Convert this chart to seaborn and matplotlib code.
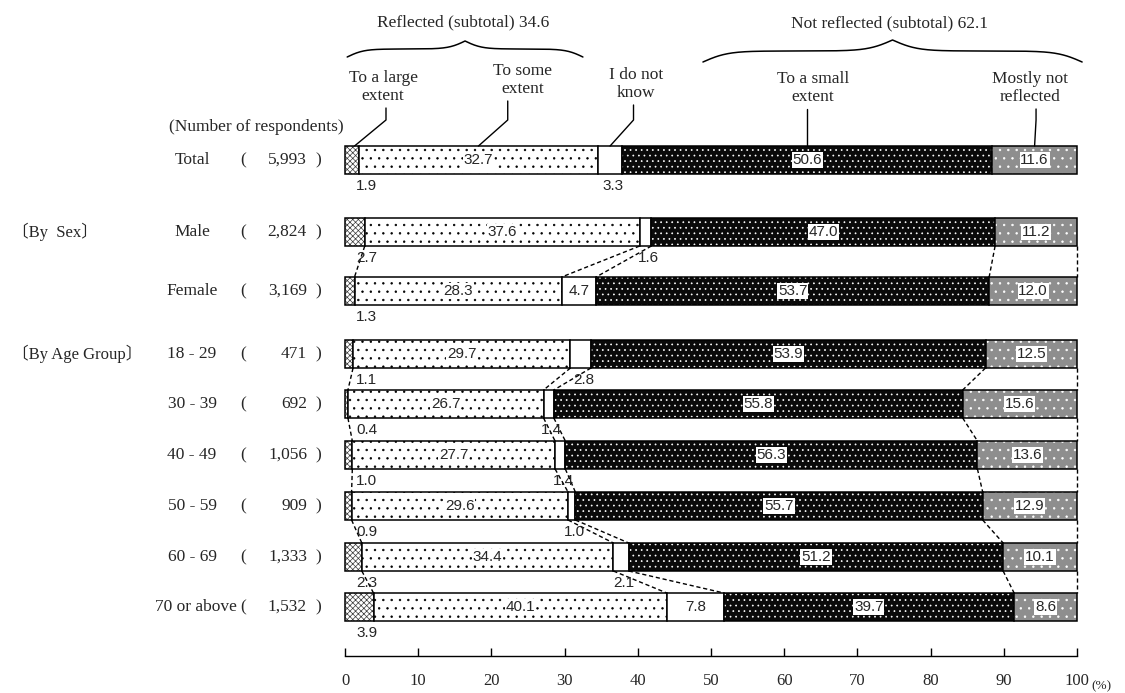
import numpy as np
import pandas as pd
import matplotlib
matplotlib.use('Agg')
import matplotlib.pyplot as plt
import seaborn as sns

# ---- data (percent) ----
groups = ['Total', 'Male', 'Female', '18 - 29', '30 - 39', '40 - 49', '50 - 59', '60 - 69', '70 or above']
respondents = ['5,993', '2,824', '3,169', '471', '692', '1,056', '909', '1,333', '1,532']
answers = ['To a large\nextent', 'To some\nextent', 'I do not\nknow', 'To a small\nextent', 'Mostly not\nreflected']
large_extent = [1.9, 2.7, 1.3, 1.1, 0.4, 1.0, 0.9, 2.3, 3.9]
some_extent = [32.7, 37.6, 28.3, 29.7, 26.7, 27.7, 29.6, 34.4, 40.1]
dont_know = [3.3, 1.6, 4.7, 2.8, 1.4, 1.4, 1.0, 2.1, 7.8]
small_extent = [50.6, 47.0, 53.7, 53.9, 55.8, 56.3, 55.7, 51.2, 39.7]
mostly_not = [11.6, 11.2, 12.0, 12.5, 15.6, 13.6, 12.9, 10.1, 8.6]
reflected_subtotal = 34.6
not_reflected_subtotal = 62.1
x_ticks = list(range(0, 101, 10))

# ---- layout (y axis runs in pixels, top = 0) ----
row_y = [160, 232, 291, 354, 404, 455, 506, 557, 607]
bar_h = 28
links = [(1, 2), (3, 4), (4, 5), (5, 6), (6, 7), (7, 8)]
PX = 7.32  # pixels per percent

sns.set_style('white')
plt.rcParams['font.family'] = ['Liberation Serif', 'Noto Sans CJK JP']
plt.rcParams['hatch.linewidth'] = 0.5
NUMFONT = ['Liberation Sans Narrow', 'Liberation Sans']

fig = plt.figure(figsize=(11.25, 6.93), dpi=100)
ax = fig.add_axes([345 / 1125, 37 / 693, 732 / 1125, 656 / 693])

segs = [large_extent, some_extent, dont_know, small_extent, mostly_not]
vals = np.array(segs).T
# 100% stacked: every bar is scaled to end exactly at 100
share = vals / vals.sum(axis=1, keepdims=True) * 100
ends = np.cumsum(share, axis=1)
starts = ends - share

styles = [
    dict(color='white', edgecolor='#3a3a3a', hatch='xxxxxx'),
    dict(color='white', edgecolor='black', hatch='..'),
    dict(color='white', edgecolor='white', hatch=None),
    dict(color='#0a0a0a', edgecolor='white', hatch='...'),
    dict(color='#8e8e8e', edgecolor='white', hatch='..'),
]

width = bar_h / np.min(np.diff(row_y))
for k in range(len(segs)):
    df = pd.DataFrame({'pos': row_y, 'pct': share[:, k]})
    sns.barplot(data=df, x='pct', y='pos', orient='h', native_scale=True, width=width,
                saturation=1, errorbar=None, linewidth=0, left=starts[:, k], ax=ax, **styles[k])
    sns.barplot(data=df, x='pct', y='pos', orient='h', native_scale=True, width=width,
                fill=False, color='black', linewidth=1.1, errorbar=None, left=starts[:, k], ax=ax)
for p in ax.patches:
    p.set_clip_on(False)

# dashed connectors between neighbouring bars
for a, b in links:
    for k in range(5):
        ax.plot([ends[a, k], ends[b, k]], [row_y[a] + bar_h / 2, row_y[b] - bar_h / 2],
                color='black', lw=1, ls=(0, (3, 2)), zorder=1, clip_on=False)

# value labels
box = dict(facecolor='white', edgecolor='none', pad=0.6)
for i, y in enumerate(row_y):
    below = y + bar_h / 2 + 12
    ax.text(1.5, below, '%.1f' % vals[i, 0], ha='left', va='center', fontsize=11, family=NUMFONT)
    for k in (1, 3, 4):
        ax.text(starts[i, k] + share[i, k] / 2, y, '%.1f' % vals[i, k], ha='center', va='center',
                fontsize=11, family=NUMFONT, bbox=box, zorder=5)
    cx = starts[i, 2] + share[i, 2] / 2
    if vals[i, 2] >= 4:
        ax.text(cx, y, '%.1f' % vals[i, 2], ha='center', va='center', fontsize=11, family=NUMFONT, zorder=5)
    else:
        ax.text(cx + 0.4, below, '%.1f' % vals[i, 2], ha='center', va='center', fontsize=11, family=NUMFONT)


# row labels on the left
def xp(px):
    return (px - 345) / PX


for i, y in enumerate(row_y):
    if len(groups[i]) > 8:
        ax.text(xp(237), y, groups[i], ha='right', va='center', fontsize=12.5, clip_on=False)
    else:
        ax.text(xp(192), y, groups[i], ha='center', va='center', fontsize=12.5, clip_on=False)
    ax.text(xp(243), y, '(', ha='center', va='center', fontsize=12.5, clip_on=False)
    ax.text(xp(307), y, respondents[i], ha='right', va='center', fontsize=12.5, clip_on=False)
    ax.text(xp(318), y, ')', ha='center', va='center', fontsize=12.5, clip_on=False)
ax.text(xp(12), row_y[1], '〔By  Sex〕', ha='left', va='center', fontsize=12, clip_on=False)
ax.text(xp(12), row_y[3], '〔By Age Group〕', ha='left', va='center', fontsize=12, clip_on=False)
ax.text(xp(344), 127, '(Number of respondents)', ha='right', va='center', fontsize=12.5, clip_on=False)

# answer headers with leader lines to the Total bar
head_x = [5.2, 24.3, 39.8, 63.9, 93.6]
head_bottom = [104, 97, 101, 105, 105]
lead_dx = [4.3, 4.0, 3.2, 0.0, 0.2]
top = row_y[0] - bar_h / 2
for k in range(5):
    ax.text(head_x[k], head_bottom[k], answers[k], ha='center', va='bottom', fontsize=12.5,
            linespacing=1.2, clip_on=False)
    cx = starts[0, k] + share[0, k] / 2
    if k == 0:
        cx = 1.3
    ux = cx + lead_dx[k]
    if lead_dx[k] > 0:
        ax.plot([ux, ux, cx], [head_bottom[k] + 4, top - 26, top], color='black', lw=1, clip_on=False)
    else:
        ax.plot([ux, ux], [head_bottom[k] + 4, top], color='black', lw=1, clip_on=False)


def brace(x0, x1, y_end, rise, beta=0.12):
    L = (x1 - x0) * PX / 2
    t = np.linspace(0, L, 200)
    v = 1 / (1 + np.exp(-beta * t)) + 1 / (1 + np.exp(-beta * (t - L)))
    yy = y_end - (v - 0.5) * rise
    xs = np.concatenate([x0 + t / PX, x1 - t[::-1] / PX])
    ys = np.concatenate([yy, yy[::-1]])
    ax.plot(xs, ys, color='black', lw=1.1, clip_on=False)


brace(0.3, 32.5, 57, 16)
brace(48.9, 100.7, 62, 22, beta=0.08)
ax.text(16.2, 22, 'Reflected (subtotal) %.1f' % reflected_subtotal, ha='center', va='center', fontsize=12.5)
ax.text(74.4, 23, 'Not reflected (subtotal) %.1f' % not_reflected_subtotal, ha='center', va='center', fontsize=12.5)

# axes cosmetics
ax.set_xlim(0, 100)
ax.set_ylim(656, 0)
ax.set_xlabel('')
ax.set_ylabel('')
ax.set_yticks([])
ax.set_xticks(x_ticks)
ax.set_xticklabels([str(t) for t in x_ticks], fontsize=12)
ax.tick_params(axis='x', direction='in', length=6, width=1, pad=12, bottom=True, color='black')
for s in ('left', 'top', 'right'):
    ax.spines[s].set_visible(False)
ax.spines['bottom'].set_color('black')
ax.spines['bottom'].set_linewidth(1)
ax.text(102.0, 686, '(%)', ha='left', va='center', fontsize=9.5, clip_on=False)

fig.savefig('out.png', dpi=100)
